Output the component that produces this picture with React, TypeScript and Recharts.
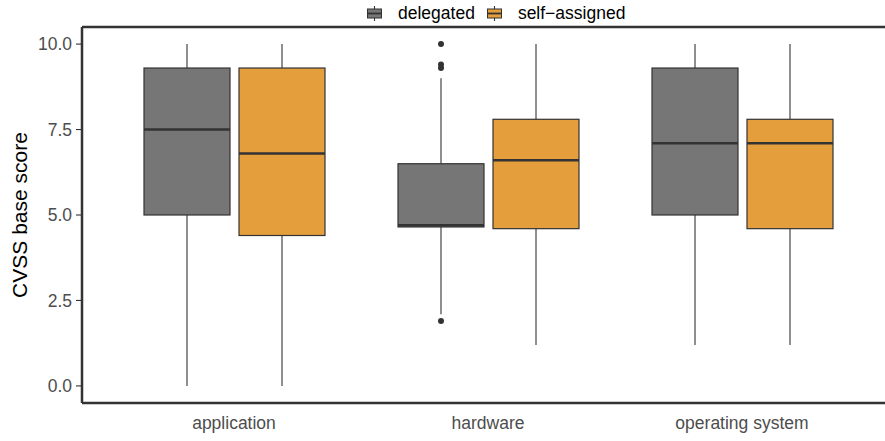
import React from 'react';
import { ComposedChart, Bar, XAxis, YAxis, ReferenceLine, Legend } from 'recharts';

// ---- data ----
const categories = ['application', 'hardware', 'operating system'];

const delegatedMin = [0, 2.1, 1.2];
const delegatedQ1 = [5.0, 4.65, 5.0];
const delegatedMedian = [7.5, 4.7, 7.1];
const delegatedQ3 = [9.3, 6.5, 9.3];
const delegatedMax = [10, 9.0, 10];
const delegatedOutliers: number[][] = [[], [10, 9.4, 9.3, 1.9], []];

const selfMin = [0, 1.2, 1.2];
const selfQ1 = [4.4, 4.6, 4.6];
const selfMedian = [6.8, 6.6, 7.1];
const selfQ3 = [9.3, 7.8, 7.8];
const selfMax = [10, 10, 10];
const selfOutliers: number[][] = [[], [], []];

const yTicks = [0, 2.5, 5, 7.5, 10];
const seriesNames = ['delegated', 'self\u2212assigned'];
const seriesColors = ['#767676', '#E49E3C'];

type Stats = { min: number; q1: number; med: number; q3: number; max: number; out: number[] };

const mk = (mn: number[], q1: number[], md: number[], q3: number[], mx: number[], o: number[][], i: number): Stats => ({
  min: mn[i], q1: q1[i], med: md[i], q3: q3[i], max: mx[i], out: o[i],
});

const data = categories.map((c, i) => {
  const d = mk(delegatedMin, delegatedQ1, delegatedMedian, delegatedQ3, delegatedMax, delegatedOutliers, i);
  const s = mk(selfMin, selfQ1, selfMedian, selfQ3, selfMax, selfOutliers, i);
  const range = (st: Stats) => [Math.min(st.min, ...st.out), Math.max(st.max, ...st.out)];
  return { category: c, d, s, dRange: range(d), sRange: range(s) };
});

const INK = '#333333';
const FONT = 'Liberation Sans, Arial, sans-serif';

function BoxShape(props: any) {
  const { x, y, width, height, st, fill } = props;
  if (!st) return null;
  const lo = Math.min(st.min, ...st.out);
  const hi = Math.max(st.max, ...st.out);
  const top = Math.min(y, y + height);
  const bottom = Math.max(y, y + height);
  const px = (v: number) => (hi === lo ? top : bottom - ((bottom - top) * (v - lo)) / (hi - lo));
  const cx = x + width / 2;
  return (
    <g>
      <line x1={cx} x2={cx} y1={px(st.max)} y2={px(st.q3)} stroke={INK} strokeWidth={1.1} />
      <line x1={cx} x2={cx} y1={px(st.q1)} y2={px(st.min)} stroke={INK} strokeWidth={1.1} />
      <rect x={x} y={px(st.q3)} width={width} height={px(st.q1) - px(st.q3)} fill={fill} stroke={INK} strokeWidth={1.2} />
      <line x1={x} x2={x + width} y1={px(st.med)} y2={px(st.med)} stroke={INK} strokeWidth={2.4} />
      {st.out.map((v: number, k: number) => (
        <circle key={k} cx={cx} cy={px(v)} r={3} fill={INK} />
      ))}
    </g>
  );
}

function LegendIcon({ color }: { color: string }) {
  return (
    <svg width={15} height={17} style={{ display: 'block' }}>
      <line x1={7.5} x2={7.5} y1={1} y2={16} stroke={INK} strokeWidth={1.1} />
      <rect x={0.5} y={4} width={14} height={9} fill={color} stroke={INK} strokeWidth={1} />
      <line x1={0.5} x2={14.5} y1={8.5} y2={8.5} stroke={INK} strokeWidth={1.8} />
    </svg>
  );
}

function LegendContent() {
  return (
    <div style={{ position: 'absolute', left: 367, top: 0, display: 'flex', alignItems: 'center', fontFamily: FONT, fontSize: 17.5, color: '#000', whiteSpace: 'nowrap' }}>
      {seriesNames.map((n, i) => (
        <div key={n} style={{ display: 'flex', alignItems: 'center', marginRight: i === 0 ? 12 : 0 }}>
          <LegendIcon color={seriesColors[i]} />
          <span style={{ marginLeft: 16 }}>{n}</span>
        </div>
      ))}
    </div>
  );
}

function YLabel() {
  const cx = 19;
  const cy = 215;
  return (
    <text x={cx} y={cy} transform={`rotate(-90, ${cx}, ${cy})`} textAnchor="middle" dominantBaseline="central"
      fontFamily={FONT} fontSize={21} fill="#000">
      CVSS base score
    </text>
  );
}

export default function App() {
  return (
    <div style={{ position: 'absolute', left: 0, top: 0, width: 885, height: 441, overflow: 'hidden', background: '#fff' }}>
      <ComposedChart width={905} height={441} data={data} margin={{ top: 27, right: 11, bottom: 0, left: 0 }}
        barSize={86} barGap={9}>
        <XAxis dataKey="category" type="category" padding={{ left: 25, right: 25 }} height={38}
          tickLine={false} axisLine={{ stroke: INK, strokeWidth: 2.5 }} tickMargin={8}
          tick={{ fill: '#4D4D4D', fontSize: 17.5, fontFamily: FONT }} />
        <YAxis type="number" domain={[-0.5, 10.5]} ticks={yTicks} width={82} tickSize={6} tickMargin={4}
          tickFormatter={(v: number) => v.toFixed(1)} allowDataOverflow
          tickLine={{ stroke: INK, strokeWidth: 1.1 }} axisLine={{ stroke: INK, strokeWidth: 2.5 }}
          tick={{ fill: '#4D4D4D', fontSize: 17.5, fontFamily: FONT }}
          label={() => <YLabel />} />
        <ReferenceLine y={10.5} stroke={INK} strokeWidth={2.5} ifOverflow="visible" />
        <Bar dataKey="dRange" name={seriesNames[0]} fill={seriesColors[0]} isAnimationActive={false}
          shape={(p: any) => <BoxShape {...p} st={p.payload.d} fill={seriesColors[0]} />} />
        <Bar dataKey="sRange" name={seriesNames[1]} fill={seriesColors[1]} isAnimationActive={false}
          shape={(p: any) => <BoxShape {...p} st={p.payload.s} fill={seriesColors[1]} />} />
        <Legend layout="horizontal" verticalAlign="middle" align="center" content={() => <LegendContent />}
          wrapperStyle={{ top: 3, left: 0, width: 885, height: 20 }} />
      </ComposedChart>
    </div>
  );
}
